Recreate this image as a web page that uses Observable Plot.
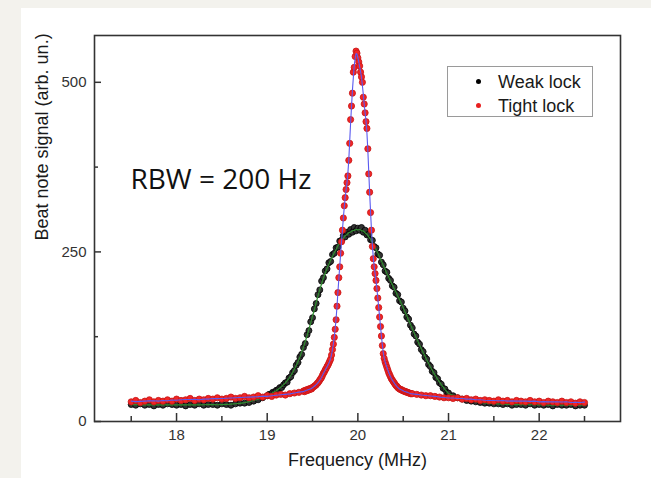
<!DOCTYPE html>
<html><head><meta charset="utf-8">
<script src="https://cdn.jsdelivr.net/npm/d3@7"></script>
<script src="https://cdn.jsdelivr.net/npm/@observablehq/plot@0.6"></script>
<style>
html,body{margin:0;padding:0;background:#f3f2ed;width:651px;height:478px;overflow:hidden;position:relative}
#panel{position:absolute;left:21px;top:8px;width:630px;height:470px;background:#fff}
#chart{position:absolute;left:0;top:0}
#legend{position:absolute;left:447px;top:66px;width:144px;height:49px;border:1px solid #9a9a9a;background:#fff;font-family:"Liberation Sans",Arial,sans-serif;font-size:18px;color:#1a1a1a}
.row{position:absolute;left:0;height:22px;line-height:22px}
.mk{position:absolute;width:5px;height:5px;border-radius:50%;left:28px;top:8px}
.lb{position:absolute;left:50px;top:0;white-space:nowrap}
</style></head><body>
<div id="panel"></div>
<div id="chart"></div>
<div id="legend">
  <div class="row" style="top:4px"><span class="mk" style="background:#000"></span><span class="lb" id="lbw"></span></div>
  <div class="row" style="top:28px"><span class="mk" style="background:#e82020"></span><span class="lb" id="lbt"></span></div>
</div>
<script>
// ---- data ----
const seriesNames = ["Weak lock", "Tight lock"];
const xTitle = "Frequency (MHz)";
const yTitle = "Beat note signal (arb. un.)";
const note = "RBW = 200 Hz";
const xMajorTicks = [18, 19, 20, 21, 22];
const xMinorTicks = [17.5, 18.5, 19.5, 20.5, 21.5, 22.5];
const yMajorTicks = [0, 250, 500];
const yMinorTicks = [125, 375];

// frequency sampling grid of each trace (MHz)
const grid = (a, b, s) => d3.range(Math.round((b - a) / s) + 1).map(i => +(a + i * s).toFixed(2));
const weakFreq = [...grid(17.5, 18.95, 0.05), ...grid(19.0, 21.0, 0.02), ...grid(21.05, 22.5, 0.05)];
const tightFreq = [...grid(17.5, 19.35, 0.05), ...grid(19.4, 20.6, 0.01), ...grid(20.65, 22.5, 0.05)];

const weakSignal = [
  25,24,26,24,25,23,25,24,26,25,24,25,23,25,24,26,24,25,25,24,26,25,24,26,27,27,28,30,32,35,
  38,40,39,43,43,46,47,50,50,54,57,58,64,66,72,75,83,87,95,99,
  109,115,128,134,147,153,166,174,187,194,207,212,222,225,234,236,246,248,256,257,
  266,267,274,272,279,276,283,279,286,281,285,282,286,279,282,275,276,268,267,258,
  256,247,245,235,231,222,220,211,208,200,198,189,187,178,176,167,163,154,151,142,
  138,129,126,117,114,106,103,95,92,84,81,74,72,65,63,57,55,49,48,43,42,
  38,35,33,31,30,29,28,27,27,26,26,25,26,24,25,25,24,26,24,25,24,25,23,25,24,24,25,23,24,24
];
const tightSignal = [
  29,31,28,30,32,29,31,30,32,30,33,31,32,34,31,33,32,34,33,35,33,34,36,34,35,37,35,36,38,36,38,37,39,40,39,41,42,43,
  45,44,46,45,47,46,48,47,49,48,50,51,52,53,54,56,57,59,61,63,
  65,68,71,73,76,78,81,83,86,89,92,98,106,114,124,136,150,170,190,212,
  228,248,265,282,300,318,330,342,352,362,385,410,445,465,484,515,522,538,546,543,
  536,530,524,515,508,500,478,468,455,442,432,402,365,338,308,282,258,240,228,218,
  208,196,182,168,154,140,126,112,100,93,88,84,80,76,72,69,66,63,61,59,
  57,55,53,52,50,49,48,47,47,46,45,45,44,44,43,43,42,42,41,41,41,
  40,39,38,38,37,36,35,35,34,35,33,34,32,33,31,32,31,30,32,30,31,29,31,30,29,31,29,30,28,30,29,28,30,28,29,27,29,28
];

const weak = weakFreq.map((f, i) => ({f, v: weakSignal[i]}));
const tight = tightFreq.map((f, i) => ({f, v: tightSignal[i]}));

document.getElementById("lbw").textContent = seriesNames[0];
document.getElementById("lbt").textContent = seriesNames[1];

const W = 651, H = 478, mL = 94, mR = 31, mT = 35, mB = 57;
const innerW = W - mL - mR, innerH = H - mT - mB;

const chart = Plot.plot({
  width: W, height: H,
  marginLeft: mL, marginRight: mR, marginTop: mT, marginBottom: mB,
  style: {background: "transparent", fontFamily: "'Liberation Sans', Arial, sans-serif"},
  x: {domain: [17.095, 22.897]},
  y: {domain: [0, 569]},
  marks: [
    Plot.dot(weak, {x: "f", y: "v", r: 3, fill: "#333", stroke: "#000", strokeWidth: 0.8}),
    Plot.lineY(weak, Plot.windowY({k: 7}, {x: "f", y: "v", stroke: "#2f8f2f", strokeWidth: 1.2})),
    Plot.dot(tight, {x: "f", y: "v", r: 3.1, fill: "#f02626", stroke: "#c81414", strokeWidth: 0.8}),
    Plot.lineY(tight, Plot.windowY({k: 3}, {x: "f", y: "v", stroke: "#5a5af0", strokeWidth: 1.1})),
    Plot.axisX({ticks: xMajorTicks, tickSize: 0, tickPadding: 8, label: null, fontSize: 15, fill: "#333", tickFormat: d => String(d)}),
    Plot.axisY({ticks: yMajorTicks, tickSize: 0, tickPadding: 8, label: null, fontSize: 15, fill: "#333", tickFormat: d => String(d)}),
    Plot.tickX(xMajorTicks, {x: d => d, insetTop: innerH - 8, stroke: "#333", strokeWidth: 1.5}),
    Plot.tickX(xMinorTicks, {x: d => d, insetTop: innerH - 5, stroke: "#333", strokeWidth: 1.5}),
    Plot.tickY(yMajorTicks, {y: d => d, insetRight: innerW - 7, stroke: "#333", strokeWidth: 1.5}),
    Plot.tickY(yMinorTicks, {y: d => d, insetRight: innerW - 4, stroke: "#333", strokeWidth: 1.5}),
    Plot.frame({stroke: "#333", strokeWidth: 1.6}),
    Plot.text([xTitle], {frameAnchor: "bottom", dy: 44, fontSize: 18, fill: "#1a1a1a"}),
    Plot.text([yTitle], {frameAnchor: "left", dx: -52, dy: 12, rotate: -90, fontSize: 18, fill: "#1a1a1a"}),
    Plot.text([note], {frameAnchor: "top-left", dx: 36, dy: 134, textAnchor: "start", fontSize: 28, fontFamily: "'Open Sans', sans-serif", fill: "#111"})
  ]
});
document.getElementById("chart").appendChild(chart);
</script>
</body></html>
